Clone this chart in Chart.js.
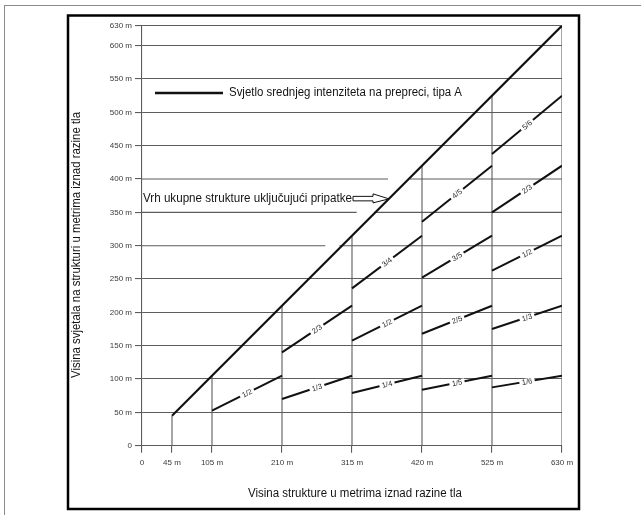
<!DOCTYPE html>
<html><head><meta charset="utf-8">
<script src="https://cdn.jsdelivr.net/npm/chart.js@4/dist/chart.umd.min.js"></script>
<style>html,body{margin:0;padding:0;background:#fff;}#wrap{width:641px;height:515px;position:relative}</style>
</head><body><div id="wrap"><canvas id="c" width="641" height="515"></canvas></div>
<script>
// ---- data ----
const xTicks = [0, 45, 105, 210, 315, 420, 525, 630];
const yTicks = [0, 50, 100, 150, 200, 250, 300, 350, 400, 450, 500, 550, 600, 630];
const diagX = [45, 630];
const diagY = [45, 630];
const vertX = [45, 105, 210, 315, 420, 525, 630];
const vertTop = [45, 105, 210, 315, 420, 525, 630];
const segLabels = ['1/2','2/3','1/3','3/4','1/2','1/4','4/5','3/5','2/5','1/5','5/6','2/3','1/2','1/3','1/6'];
const segX0 = [105, 210, 210, 315, 315, 315, 420, 420, 420, 420, 525, 525, 525, 525, 525];
const segX1 = [210, 315, 315, 420, 420, 420, 525, 525, 525, 525, 630, 630, 630, 630, 630];
const segY0 = [52.5, 140, 70, 236, 157.5, 79, 336, 252, 168, 84, 437.5, 350, 262.5, 175, 87.5];
const segY1 = [105, 210, 105, 315, 210, 105, 420, 315, 210, 105, 525, 420, 315, 210, 105];
const brokenY = [300, 350, 400];
const gapFrom = [275, 322, 369];
const gapTo = [296, 348, 402];
const legendText = 'Svjetlo srednjeg intenziteta na prepreci, tipa A';
const arrowText = 'Vrh ukupne strukture uključujući pripatke';
const xTitle = 'Visina strukture u metrima iznad razine tla';
const yTitle = 'Visina svjetala na strukturi u metrima iznad razine tla';

// ---- styles ----
const GRID = '#5c5c5c';
const INK = '#111111';
const FONT = '"Liberation Sans", Arial, sans-serif';

const datasets = [];
// main diagonal
datasets.push({data: diagX.map((x, i) => ({x, y: diagY[i]})), borderColor: INK, borderWidth: 2.2, order: 0});
// verticals
vertX.forEach((x, i) => datasets.push({data: [{x, y: 0}, {x, y: vertTop[i]}], borderColor: GRID, borderWidth: 1.1, order: 5}));
// broken horizontal lines
brokenY.forEach((y, i) => datasets.push({data: [{x: 0, y}, {x: gapFrom[i], y}, {x: (gapFrom[i] + gapTo[i]) / 2, y: null}, {x: gapTo[i], y}, {x: 630, y}], borderColor: GRID, borderWidth: 1.1, spanGaps: false, order: 5}));
// fraction segments
segLabels.forEach((lab, i) => datasets.push({segLabel: lab, data: [{x: segX0[i], y: segY0[i]}, {x: segX1[i], y: segY1[i]}], borderColor: INK, borderWidth: 2, order: 1}));
datasets.forEach(d => { d.showLine = true; d.pointRadius = 0; d.pointHoverRadius = 0; d.fill = false; });

function fitText(ctx, text, x, y, w, size, rot, align) {
  ctx.save();
  ctx.font = size + 'px ' + FONT;
  const m = ctx.measureText(text).width;
  ctx.translate(x, y);
  if (rot) ctx.rotate(rot);
  ctx.scale(w / m, 1);
  ctx.textAlign = align; ctx.textBaseline = 'middle'; ctx.fillStyle = '#141414';
  ctx.fillText(text, 0, 0);
  ctx.restore();
}

const deco = {
  id: 'deco',
  beforeDraw(chart) {
    const c = chart.ctx; c.save(); c.fillStyle = '#fff'; c.fillRect(0, 0, chart.width, chart.height); c.restore();
  },
  afterDatasetsDraw(chart) {
    const c = chart.ctx;
    chart.data.datasets.forEach((d, i) => {
      if (!d.segLabel) return;
      const pts = chart.getDatasetMeta(i).data;
      const p0 = pts[0], p1 = pts[1];
      const mx = (p0.x + p1.x) / 2, my = (p0.y + p1.y) / 2;
      const ang = Math.atan2(p1.y - p0.y, p1.x - p0.x);
      c.save();
      c.translate(mx, my); c.rotate(ang);
      c.font = '7.5px ' + FONT;
      const tw = c.measureText(d.segLabel).width;
      c.fillStyle = '#fff';
      c.fillRect(-tw / 2 - 2.5, -3, tw + 5, 6);
      c.fillStyle = '#262626';
      c.textAlign = 'center'; c.textBaseline = 'middle';
      c.fillText(d.segLabel, 0, 0.5);
      c.restore();
    });
  },
  afterDraw(chart) {
    const c = chart.ctx, xs = chart.scales.x, ys = chart.scales.y;
    // legend
    c.save();
    c.strokeStyle = INK; c.lineWidth = 2.6;
    const ly = ys.getPixelForValue(529);
    c.beginPath(); c.moveTo(xs.getPixelForValue(19.5), ly); c.lineTo(xs.getPixelForValue(121.5), ly); c.stroke();
    c.restore();
    fitText(c, legendText, xs.getPixelForValue(130.5), ly, 233, 12.5, 0, 'left');
    // arrow annotation
    const ay = ys.getPixelForValue(371);
    fitText(c, arrowText, xs.getPixelForValue(1.5), ay, 209, 12.5, 0, 'left');
    const tip = xs.getPixelForValue(370.5);
    c.save();
    c.strokeStyle = INK; c.fillStyle = '#fff'; c.lineWidth = 1;
    c.beginPath();
    c.moveTo(tip - 36, ay - 2); c.lineTo(tip - 16, ay - 2); c.lineTo(tip - 16, ay - 4.5);
    c.lineTo(tip, ay + 0.5); c.lineTo(tip - 16, ay + 4.5); c.lineTo(tip - 16, ay + 2.5);
    c.lineTo(tip - 36, ay + 2.5); c.closePath();
    c.fill(); c.stroke();
    c.restore();
    // axis titles
    fitText(c, xTitle, 355, 494, 214, 12.5, 0, 'center');
    fitText(c, yTitle, 77, 245, 266, 12.5, -Math.PI / 2, 'center');
    // frames
    c.save();
    c.strokeStyle = '#8a8a8a'; c.lineWidth = 1;
    c.strokeRect(4.5, 5.5, 700, 600);
    c.strokeStyle = '#000'; c.lineWidth = 2.5;
    c.strokeRect(68, 15.5, 511, 493.5);
    c.restore();
  }
};

new Chart(document.getElementById('c'), {
  type: 'scatter',
  data: {datasets},
  plugins: [deco],
  options: {
    responsive: false, animation: false, devicePixelRatio: 1,
    layout: {padding: {top: 25.7, right: 79, left: 0, bottom: 0}},
    plugins: {legend: {display: false}, tooltip: {enabled: false}},
    events: [],
    scales: {
      x: {
        type: 'linear', min: 0, max: 630,
        afterBuildTicks: s => { s.ticks = xTicks.map(v => ({value: v})); },
        afterFit: s => { s.height = 69.3; },
        grid: {drawOnChartArea: false, drawTicks: true, tickLength: 7, color: GRID, lineWidth: 1.1},
        border: {display: true, color: GRID, width: 1.1},
        ticks: {autoSkip: false, maxRotation: 0, padding: 5, color: '#3a3a3a', font: {family: FONT, size: 8},
          callback: v => v === 0 ? '0' : v + ' m'}
      },
      y: {
        type: 'linear', min: 0, max: 630,
        afterBuildTicks: s => { s.ticks = yTicks.map(v => ({value: v})); },
        afterFit: s => { s.width = 142; },
        grid: {drawOnChartArea: true, drawTicks: true, tickLength: 7, lineWidth: 1.1,
          color: ctx => (ctx.tick && brokenY.includes(ctx.tick.value)) ? 'rgba(0,0,0,0)' : GRID,
          tickColor: GRID},
        border: {display: true, color: GRID, width: 1.1},
        ticks: {autoSkip: false, padding: 3, color: '#3a3a3a', font: {family: FONT, size: 8},
          callback: v => v === 0 ? '0' : v + ' m'}
      }
    }
  }
});
</script>
</body></html>
